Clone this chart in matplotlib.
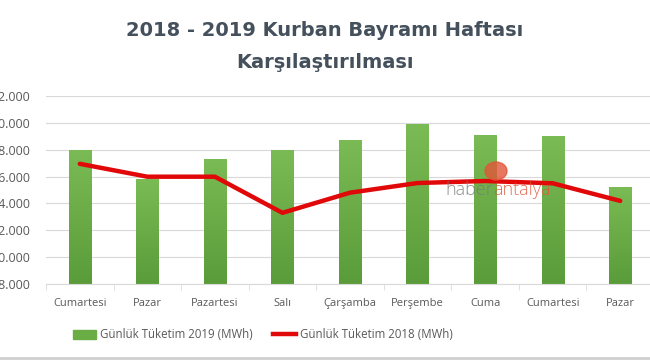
import numpy as np
import matplotlib.pyplot as plt
from matplotlib.colors import LinearSegmentedColormap
from matplotlib.ticker import FuncFormatter
from matplotlib.lines import Line2D
from matplotlib.patches import Patch, Ellipse

# Veriler (MWh)
gunler = ['Cumartesi', 'Pazar', 'Pazartesi', 'Salı', 'Çarşamba', 'Perşembe', 'Cuma', 'Cumartesi', 'Pazar']
tuketim_2019 = [28000, 25850, 27330, 28000, 28750, 29880, 29130, 29050, 25240]
tuketim_2018 = [26950, 25990, 25990, 23300, 24800, 25520, 25670, 25500, 24190]
y_ticks = [18000, 20000, 22000, 24000, 26000, 28000, 30000, 32000]

plt.rcParams['font.family'] = ['Open Sans', 'DejaVu Sans']

fig = plt.figure(figsize=(6.5, 3.6), dpi=100)
ax = fig.add_axes([46 / 650, 76 / 360, 608 / 650, 188 / 360])

x = np.arange(len(gunler))

# Sütunlar (2019) - yukarıdan aşağı yeşil degrade
bars = ax.bar(x, tuketim_2019, width=0.33, color='#6AAD45', zorder=2)
grad = np.linspace(0, 1, 100).reshape(-1, 1)
yesil = LinearSegmentedColormap.from_list('yesil', ['#7BBB55', '#5A9C3A'])
for b in bars:
    x0 = b.get_x()
    im = ax.imshow(grad, extent=[x0, x0 + b.get_width(), y_ticks[0], b.get_height()],
                   cmap=yesil, aspect='auto', origin='upper', zorder=2.1)
    im.set_clip_path(b)

# Çizgi (2018)
ax.plot(x, tuketim_2018, color='#E00808', linewidth=3.2, solid_capstyle='round',
        solid_joinstyle='round', zorder=3)

ax.set_xlim(-0.5, len(gunler) - 0.5)
ax.set_ylim(y_ticks[0], y_ticks[-1])
ax.set_yticks(y_ticks)
ax.yaxis.set_major_formatter(FuncFormatter(lambda v, p: f'{int(v):,}'.replace(',', '.')))
ax.set_xticks(x)
ax.set_xticklabels(gunler)
ax.set_xticks(np.arange(-0.5, len(gunler), 1), minor=True)

ax.grid(axis='y', color='#D9D9D9', linewidth=0.8, zorder=0)
for s in ['top', 'right', 'left']:
    ax.spines[s].set_visible(False)
ax.spines['bottom'].set_color('#D9D9D9')
ax.tick_params(axis='y', length=0, pad=11, labelsize=9, labelcolor='#595959')
ax.tick_params(axis='x', which='major', length=0, pad=10, labelsize=8, labelcolor='#595959')
ax.tick_params(axis='x', which='minor', length=4, color='#D9D9D9')

# Başlık
baslik = dict(ha='center', va='center', fontsize=14, fontweight='bold', color='#44505C',
              family=['DejaVu Sans'])
fig.text(0.5, 1 - 30 / 360, '2018 - 2019 Kurban Bayramı Haftası', **baslik)
fig.text(0.5, 1 - 62 / 360, 'Karşılaştırılması', **baslik)

# Filigran
fig.add_artist(Ellipse((496 / 650, 1 - 171 / 360), 22 / 650, 18 / 360, transform=fig.transFigure,
                       color='#E2553A', alpha=0.8, zorder=5))
t1 = fig.text(445 / 650, 1 - 190 / 360, 'haber', color='#7A7A7A', fontsize=13,
              fontweight='light', va='center', alpha=0.85, zorder=6)
fig.add_artist(plt.Annotation('antalya', xy=(1, 0.5), xycoords=t1, va='center', ha='left',
                              color='#E2553A', fontsize=13, fontweight='light', alpha=0.85,
                              zorder=6))

# Gösterge
handles = [Patch(color='#6AAD45'), Line2D([], [], color='#E00808', linewidth=3.2)]
labels = ['Günlük Tüketim 2019 (MWh)', 'Günlük Tüketim 2018 (MWh)']
fig.legend(handles, labels, loc='center', bbox_to_anchor=(263 / 650, 1 - 335 / 360), ncol=2,
           frameon=False, fontsize=8.3, labelcolor='#595959', handlelength=2.0,
           handletextpad=0.3, columnspacing=1.8)

fig.add_artist(plt.Line2D([0, 1], [2 / 360, 2 / 360], color='#D0D0D0', linewidth=2))

fig.savefig('out.png', dpi=100)
